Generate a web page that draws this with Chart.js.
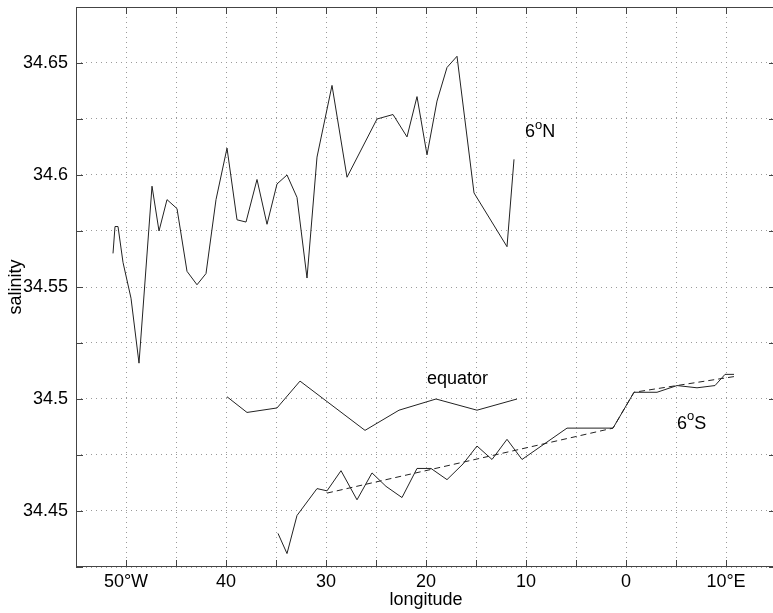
<!DOCTYPE html>
<html>
<head>
<meta charset="utf-8">
<script src="https://cdn.jsdelivr.net/npm/chart.js@4"></script>
<style>
  html, body { margin: 0; padding: 0; background: #fff; overflow: hidden; }
  canvas { display: block; }
</style>
</head>
<body>
<canvas id="salinity" width="776" height="613" style="width:776px;height:613px"></canvas>
<script>
// 6N section
const lon6N = [-51.3, -51.1, -50.8, -50.3, -49.5, -48.7, -47.4, -46.7, -45.9, -44.9, -43.9, -42.9, -42.0, -41.0, -39.9, -38.9, -38.0, -36.9, -35.9, -34.9, -33.9, -32.9, -31.9, -30.9, -29.4, -27.9, -24.9, -23.3, -21.9, -20.9, -19.9, -18.9, -17.9, -16.9, -15.2, -11.9, -11.2];
const sal6N = [34.565, 34.577, 34.577, 34.561, 34.545, 34.516, 34.595, 34.575, 34.589, 34.585, 34.557, 34.551, 34.556, 34.589, 34.612, 34.580, 34.579, 34.598, 34.578, 34.596, 34.600, 34.590, 34.554, 34.608, 34.640, 34.599, 34.625, 34.627, 34.617, 34.635, 34.609, 34.633, 34.648, 34.653, 34.592, 34.568, 34.607];

// equator
const lonEq = [-39.9, -37.9, -34.9, -32.6, -26.1, -22.7, -19.0, -14.9, -10.9];
const salEq = [34.501, 34.494, 34.496, 34.508, 34.486, 34.495, 34.500, 34.495, 34.500];

// 6S section
const lon6S = [-34.8, -33.9, -32.9, -30.9, -29.9, -28.5, -26.9, -25.4, -24.0, -22.4, -20.9, -19.5, -17.9, -16.3, -14.9, -13.4, -11.9, -10.4, -5.9, -1.3, 0.8, 3.1, 5.1, 7.1, 8.9, 9.9, 10.8];
const sal6S = [34.440, 34.431, 34.448, 34.460, 34.459, 34.468, 34.455, 34.467, 34.461, 34.456, 34.469, 34.469, 34.464, 34.471, 34.479, 34.473, 34.482, 34.473, 34.487, 34.487, 34.503, 34.503, 34.506, 34.505, 34.506, 34.511, 34.511];

// dashed fit through 6S
const lonFit = [-29.9, -1.3, 0.8, 10.8];
const salFit = [34.458, 34.487, 34.503, 34.510];

const xTickValues = [-50, -40, -30, -20, -10, 0, 10];
const xTickLabels = ['50°W', '40', '30', '20', '10', '0', '10°E'];
const yTickValues = [34.45, 34.5, 34.55, 34.6, 34.65];

const FONT = 'Liberation Sans, Arial, Helvetica, sans-serif';

function pts(xs, ys) {
  return xs.map((x, i) => ({x: x, y: ys[i]}));
}

function line(xs, ys, dash) {
  return {
    data: pts(xs, ys),
    showLine: true,
    borderColor: '#222',
    borderWidth: 1,
    borderDash: dash || [],
    pointRadius: 0,
    fill: false,
    tension: 0
  };
}

// box, inward ticks and the section labels
const frame = {
  id: 'frame',
  afterDatasetsDraw(chart) {
    const ctx = chart.ctx;
    const a = chart.chartArea;
    const xs = chart.scales.x, ys = chart.scales.y;
    ctx.save();
    ctx.strokeStyle = '#444';
    ctx.lineWidth = 1;
    ctx.setLineDash([]);
    ctx.strokeRect(a.left + 0.5, a.top + 0.5, a.right - a.left - 1, a.bottom - a.top - 1);
    ctx.beginPath();
    for (let v = -55; v <= 15; v += 5) {
      const px = Math.round(xs.getPixelForValue(v)) + 0.5;
      ctx.moveTo(px, a.bottom); ctx.lineTo(px, a.bottom - 7);
      ctx.moveTo(px, a.top); ctx.lineTo(px, a.top + 7);
    }
    for (let k = 0; k <= 10; k++) {
      const py = Math.round(ys.getPixelForValue(34.425 + k * 0.025)) + 0.5;
      ctx.moveTo(a.left, py); ctx.lineTo(a.left + 7, py);
      ctx.moveTo(a.right, py); ctx.lineTo(a.right - 7, py);
    }
    ctx.stroke();

    ctx.fillStyle = '#000';
    ctx.textBaseline = 'middle';
    ctx.textAlign = 'left';
    function degLabel(lon, sal, a1, a2) {
      let x = xs.getPixelForValue(lon);
      const y = ys.getPixelForValue(sal);
      ctx.font = '18px ' + FONT;
      ctx.fillText(a1, x, y);
      x += ctx.measureText(a1).width;
      ctx.font = '13px ' + FONT;
      ctx.fillText('o', x, y - 7);
      x += ctx.measureText('o').width;
      ctx.font = '18px ' + FONT;
      ctx.fillText(a2, x, y);
    }
    degLabel(-10.1, 34.619, '6', 'N');
    degLabel(5.1, 34.489, '6', 'S');
    ctx.font = '18px ' + FONT;
    ctx.fillText('equator', xs.getPixelForValue(-19.9), ys.getPixelForValue(34.509));
    ctx.restore();
  }
};

const ctx1 = document.getElementById('salinity').getContext('2d');
const salinityChart = new Chart(ctx1, {
  type: 'scatter',
  data: {
    datasets: [
      line(lon6N, sal6N),
      line(lonEq, salEq),
      line(lon6S, sal6S),
      line(lonFit, salFit, [6, 4])
    ]
  },
  options: {
    responsive: false,
    animation: false,
    layout: { padding: { top: 7, right: 0, left: 0, bottom: 0 } },
    plugins: {
      legend: { display: false },
      tooltip: { enabled: false }
    },
    scales: {
      x: {
        type: 'linear',
        min: -55,
        max: 15,
        afterFit: function(s) {
          s.height = 46;
          s.paddingLeft = 0; s.paddingRight = 0;
        },
        border: { display: false, dash: [1, 4] },
        grid: { color: '#9a9a9a', drawTicks: false, lineWidth: 1 },
        ticks: {
          stepSize: 5,
          autoSkip: false,
          maxRotation: 0,
          padding: 4,
          color: '#000',
          font: { family: FONT, size: 18 },
          callback: function(v) {
            const i = xTickValues.indexOf(Math.round(v));
            return i >= 0 ? xTickLabels[i] : '';
          }
        },
        title: {
          display: true,
          text: 'longitude',
          color: '#000',
          font: { family: FONT, size: 18 },
          padding: { top: 0, bottom: 2 }
        }
      },
      y: {
        type: 'linear',
        min: 34.425,
        max: 34.675,
        afterFit: function(s) {
          s.width = 76;
          s.paddingTop = 0; s.paddingBottom = 0;
        },
        border: { display: false, dash: [1, 4] },
        grid: { color: '#9a9a9a', drawTicks: false, lineWidth: 1 },
        ticks: {
          stepSize: 0.025,
          autoSkip: false,
          padding: 8,
          color: '#000',
          font: { family: FONT, size: 18 },
          callback: function(v) {
            const r = Math.round(v * 1000) / 1000;
            return yTickValues.some(t => Math.abs(t - r) < 1e-6) ? String(r) : '';
          }
        },
        title: {
          display: true,
          text: 'salinity',
          color: '#000',
          font: { family: FONT, size: 18 },
          padding: { top: 5, bottom: 0 }
        }
      }
    }
  },
  plugins: [frame]
});
</script>
</body>
</html>
